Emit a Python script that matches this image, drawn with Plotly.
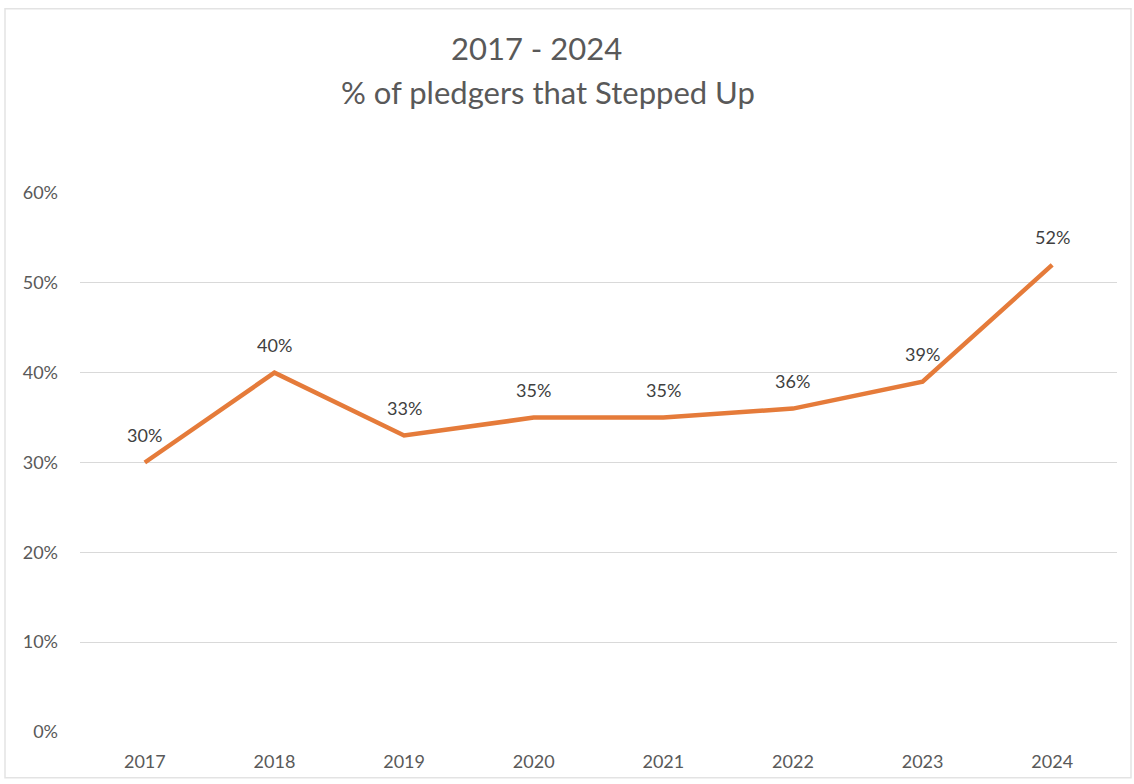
import plotly.graph_objects as go

years = ["2017", "2018", "2019", "2020", "2021", "2022", "2023", "2024"]
values = [0.30, 0.40, 0.33, 0.35, 0.35, 0.36, 0.39, 0.52]
labels = ["30%", "40%", "33%", "35%", "35%", "36%", "39%", "52%"]
y_ticks = [0, 0.1, 0.2, 0.3, 0.4, 0.5, 0.6]
y_tick_labels = ["0%", "10%", "20%", "30%", "40%", "50%", "60%"]
title_line1 = "2017 - 2024"
title_line2 = "% of pledgers that Stepped Up"

FONT = "Lato, 'Open Sans', sans-serif"
ORANGE = "#E57B3A"

fig = go.Figure()
fig.add_trace(go.Scatter(
    x=years, y=values, mode="lines",
    line=dict(color=ORANGE, width=4.5),
    hoverinfo="skip", showlegend=False,
))

# category axis: annotation x given as category index
label_annotations = [
    dict(x=i, y=v, text=lab, xref="x", yref="y", showarrow=False,
         yshift=28, xanchor="center", yanchor="middle",
         font=dict(family=FONT, size=18, color="#404040"))
    for i, (v, lab) in enumerate(zip(values, labels))
]

fig.update_layout(
    width=1134, height=784,
    margin=dict(l=80, r=17, t=193, b=50),
    paper_bgcolor="white", plot_bgcolor="white",
    font=dict(family=FONT, color="#595959"),
    xaxis=dict(
        type="category", range=[-0.5, 7.5],
        showgrid=False, showline=False, zeroline=False,
        ticks="", tickfont=dict(size=18, color="#595959"),
        ticklabelstandoff=17,
    ),
    yaxis=dict(
        range=[0, 0.6], tickvals=y_ticks, ticktext=y_tick_labels,
        showgrid=True, gridcolor="#D9D9D9", gridwidth=1.2,
        zeroline=False, showline=False, ticks="",
        tickfont=dict(size=18, color="#595959"),
        ticklabelstandoff=21,
    ),
    shapes=[dict(type="rect", xref="paper", yref="paper",
                 x0=-75/1037, x1=1131/1037 - 80/1037,
                 y0=-46/541, y1=(193 - 8) / 541 + 1,
                 line=dict(color="#E3E3E3", width=1.5), layer="below")],
    annotations=[
        dict(text=title_line1, xref="paper", yref="paper",
             x=(536 - 80) / 1037, y=1 + (193 - 47) / 541,
             showarrow=False, xanchor="center", yanchor="middle",
             font=dict(family=FONT, size=31, color="#595959")),
        dict(text=title_line2, xref="paper", yref="paper",
             x=(548 - 80) / 1037, y=1 + (193 - 92) / 541,
             showarrow=False, xanchor="center", yanchor="middle",
             font=dict(family=FONT, size=31, color="#595959")),
    ] + label_annotations,
)

fig.write_html("out.html")
